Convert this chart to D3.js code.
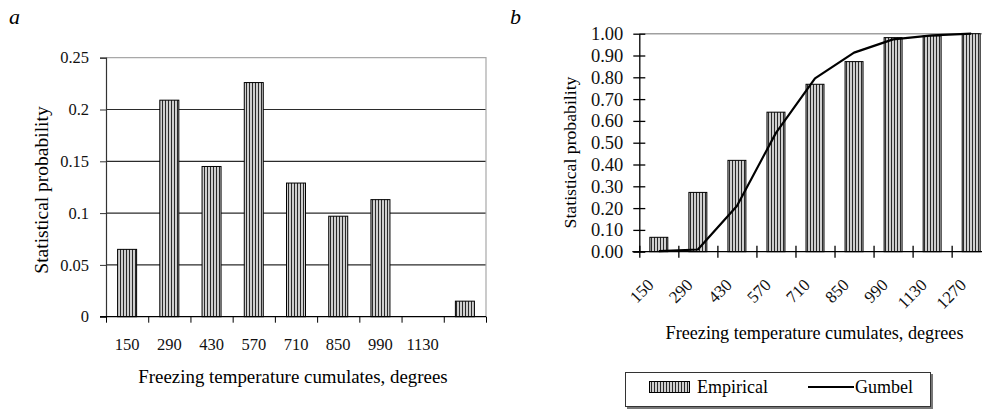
<!DOCTYPE html>
<html>
<head>
<meta charset="utf-8">
<script src="https://cdn.jsdelivr.net/npm/d3@7"></script>
<style>
  body { margin: 0; background: #fff; }
  svg { display: block; font-family: "Liberation Serif", "Times New Roman", serif; }
</style>
</head>
<body>
<script>
// categories (freezing temperature cumulates, degrees)
const categories = ["150", "290", "430", "570", "710", "850", "990", "1130", "1270"]
// panel a shows no label under the last bar
const labelsA = ["150", "290", "430", "570", "710", "850", "990", "1130", ""]

// panel a: statistical probability per class
const probA = [0.065, 0.209, 0.145, 0.226, 0.129, 0.097, 0.113, 0, 0.015]
const yTicksA = [0, 0.05, 0.1, 0.15, 0.2, 0.25]

// panel b: cumulative empirical probability and Gumbel curve
const empirical = [0.066, 0.272, 0.419, 0.640, 0.768, 0.872, 0.982, 0.990, 1.00]
const gumbel = [0.003, 0.010, 0.210, 0.545, 0.795, 0.913, 0.974, 0.992, 1.00]
const yTicksB = [0, 0.1, 0.2, 0.3, 0.4, 0.5, 0.6, 0.7, 0.8, 0.9, 1.0]

const width = 982, height = 409

const svg = d3.select("body").append("svg")
    .attr("width", width)
    .attr("height", height)

svg.append("rect").attr("width", width).attr("height", height).attr("fill", "#fff")

// vertical stripe fill used for the bars
const pat = svg.append("defs").append("pattern")
    .attr("id", "stripes")
    .attr("patternUnits", "userSpaceOnUse")
    .attr("width", 3)
    .attr("height", 3)
pat.append("rect").attr("width", 3).attr("height", 3).attr("fill", "#cfcfcf")
pat.append("rect").attr("width", 1).attr("height", 3).attr("fill", "#2a2a2a")

// ---------- panel a ----------
const A = {left: 106, right: 486, top: 57.7, bottom: 316.7}

const xA = d3.scaleBand().domain(categories).range([A.left, A.right]).padding(0)
const xAidx = d3.scaleLinear().domain([0, categories.length]).range([A.left, A.right])
const yA = d3.scaleLinear().domain([0, 0.25]).range([A.bottom, A.top])

svg.append("text")
    .attr("x", 9).attr("y", 24)
    .attr("font-size", 22).attr("font-style", "italic")
    .text("a")

// gridlines
svg.append("g")
    .selectAll("line")
    .data(yTicksA.filter(t => t > 0 && t < 0.25))
    .enter().append("line")
    .attr("x1", A.left).attr("x2", A.right)
    .attr("y1", d => yA(d)).attr("y2", d => yA(d))
    .attr("stroke", "#2b2b2b").attr("stroke-width", 1.2)

// top and right border
svg.append("path")
    .attr("d", `M${A.left},${yA(0.25)}H${A.right}V${A.bottom}`)
    .attr("fill", "none").attr("stroke", "#a8a8a8").attr("stroke-width", 1.2)

svg.append("g")
    .selectAll("rect")
    .data(probA)
    .enter().append("rect")
    .attr("x", (d, i) => xA(categories[i]) + xA.bandwidth() * 0.275)
    .attr("width", xA.bandwidth() * 0.45)
    .attr("y", d => yA(d))
    .attr("height", d => yA(0) - yA(d))
    .attr("fill", "url(#stripes)")
    .attr("stroke", "#000").attr("stroke-width", 1)
    .style("display", d => d > 0 ? null : "none")

// y axis
const yAxisA = svg.append("g")
    .attr("transform", `translate(${A.left},0)`)
    .call(d3.axisLeft(yA).tickValues(yTicksA).tickSize(6).tickPadding(11).tickFormat(d => String(d)))
yAxisA.select(".domain").attr("stroke", "#333").attr("stroke-width", 1.2)
yAxisA.selectAll(".tick line").attr("stroke", "#333")
yAxisA.selectAll("text").attr("font-size", 16.5).attr("font-family", "Liberation Serif").attr("fill", "#111")

// x axis: tick marks at class boundaries
const xAxisA = svg.append("g")
    .attr("transform", `translate(0,${A.bottom})`)
    .call(d3.axisBottom(xAidx).tickValues(d3.range(categories.length + 1)).tickSize(6).tickFormat(""))
xAxisA.select(".domain").attr("d", `M${A.left - 6},0H${A.right}`).attr("stroke", "#000").attr("stroke-width", 1.2)
xAxisA.selectAll(".tick line").attr("stroke", "#000")

// x labels at class centres
const xLabA = svg.append("g")
    .attr("transform", `translate(0,${A.bottom})`)
    .call(d3.axisBottom(xA).tickSize(0).tickPadding(22).tickFormat((d, i) => labelsA[i]))
xLabA.select(".domain").remove()
xLabA.selectAll("text").attr("font-size", 16.5).attr("font-family", "Liberation Serif").attr("fill", "#111")

svg.append("text")
    .attr("x", 293).attr("y", 383)
    .attr("text-anchor", "middle").attr("font-size", 18.9)
    .text("Freezing temperature cumulates, degrees")

svg.append("text")
    .attr("transform", "translate(48,190) rotate(-90)")
    .attr("text-anchor", "middle").attr("font-size", 19.5)
    .text("Statistical probability")

// ---------- panel b ----------
const B = {left: 639.3, right: 990.7, top: 33.7, bottom: 251.7}

const xB = d3.scaleBand().domain(categories).range([B.left, B.right]).padding(0)
const xBidx = d3.scaleLinear().domain([0, categories.length]).range([B.left, B.right])
const yB = d3.scaleLinear().domain([0, 1]).range([B.bottom, B.top])

svg.append("text")
    .attr("x", 510).attr("y", 24)
    .attr("font-size", 22).attr("font-style", "italic")
    .text("b")

svg.append("line")
    .attr("x1", B.left).attr("x2", width)
    .attr("y1", yB(1)).attr("y2", yB(1))
    .attr("stroke", "#a0a0a0").attr("stroke-width", 1.5)

svg.append("g")
    .selectAll("rect")
    .data(empirical)
    .enter().append("rect")
    .attr("x", (d, i) => xB(categories[i]) + xB.bandwidth() * 0.27)
    .attr("width", xB.bandwidth() * 0.46)
    .attr("y", d => yB(d))
    .attr("height", d => yB(0) - yB(d))
    .attr("fill", "url(#stripes)")
    .attr("stroke", "#000").attr("stroke-width", 1)

const yAxisB = svg.append("g")
    .attr("transform", `translate(${B.left},0)`)
    .call(d3.axisLeft(yB).tickValues(yTicksB).tickSizeInner(-6).tickSizeOuter(0).tickPadding(16).tickFormat(d3.format(".2f")))
yAxisB.select(".domain").attr("stroke", "#000").attr("stroke-width", 1.3)
yAxisB.selectAll(".tick line").attr("x1", -6).attr("x2", 6).attr("stroke", "#000").attr("stroke-width", 1.3)
yAxisB.selectAll("text").attr("font-size", 18.5).attr("font-family", "Liberation Serif").attr("fill", "#111")

const xAxisB = svg.append("g")
    .attr("transform", `translate(0,${B.bottom})`)
    .call(d3.axisBottom(xBidx).tickValues(d3.range(categories.length)).tickSize(6).tickFormat(""))
xAxisB.select(".domain").attr("d", `M${B.left - 7},0H${width}`).attr("stroke", "#000").attr("stroke-width", 1.3)
xAxisB.selectAll(".tick line").attr("y1", -6).attr("y2", 6).attr("stroke", "#000").attr("stroke-width", 1.3)

// rotated category labels
svg.append("g")
    .selectAll("text")
    .data(categories)
    .enter().append("text")
    .attr("transform", d => `translate(${xB(d) + xB.bandwidth() / 2 - 4},286) rotate(-45)`)
    .attr("text-anchor", "end")
    .attr("font-size", 17)
    .attr("fill", "#111")
    .text(d => d)

const line = d3.line()
    .x((d, i) => xB(categories[i]) + xB.bandwidth() / 2)
    .y(d => yB(d))

svg.append("path")
    .datum(gumbel)
    .attr("d", line)
    .attr("fill", "none")
    .attr("stroke", "#000")
    .attr("stroke-width", 2.2)
    .attr("stroke-linejoin", "round")

svg.append("text")
    .attr("x", 814.5).attr("y", 339)
    .attr("text-anchor", "middle").attr("font-size", 18.2)
    .text("Freezing temperature cumulates, degrees")

svg.append("text")
    .attr("transform", "translate(576,152.5) rotate(-90)")
    .attr("text-anchor", "middle").attr("font-size", 17.7)
    .text("Statistical probability")

// legend
const leg = svg.append("g")
leg.append("rect")
    .attr("x", 627).attr("y", 374).attr("width", 306).attr("height", 35)
    .attr("fill", "#777")
leg.append("rect")
    .attr("x", 625.5).attr("y", 372.5).attr("width", 305).attr("height", 34)
    .attr("fill", "#fff").attr("stroke", "#333").attr("stroke-width", 1)
leg.append("rect")
    .attr("x", 649.5).attr("y", 381.5).attr("width", 40).attr("height", 11)
    .attr("fill", "url(#stripes)").attr("stroke", "#000").attr("stroke-width", 1)
leg.append("text")
    .attr("x", 697).attr("y", 393).attr("font-size", 18)
    .text("Empirical")
leg.append("line")
    .attr("x1", 808).attr("x2", 854).attr("y1", 387).attr("y2", 387)
    .attr("stroke", "#000").attr("stroke-width", 2.2)
leg.append("text")
    .attr("x", 855).attr("y", 393).attr("font-size", 18)
    .text("Gumbel")
</script>
</body>
</html>
